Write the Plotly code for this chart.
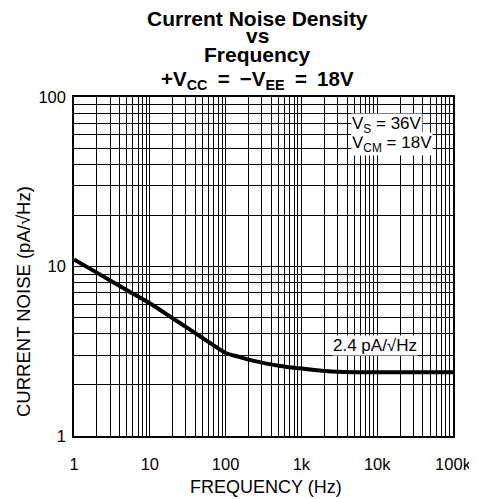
import plotly.graph_objects as go

freq_hz = [1, 2, 5, 10, 20, 50, 100, 150, 200, 300, 500, 1000, 2000, 3000, 5000, 100000]
noise_pa = [11.0, 9.2, 7.25, 6.07, 4.95, 3.78, 3.09, 2.93, 2.82, 2.71, 2.6, 2.5, 2.42, 2.39, 2.38, 2.38]

x_tickvals = [1, 10, 100, 1000, 10000, 100000]
x_ticktext = ["1", "10", "100", "1k", "10k", "100k"]
y_tickvals = [1, 10, 100]
y_ticktext = ["1", "10", "100"]

title_lines = [
    "<b>Current Noise Density</b>",
    "<b>vs</b>",
    "<b>Frequency</b>",
    "<b>+V<sub>CC</sub>\u2002=\u2002\u2212V<sub>EE</sub>\u2002=\u200218V</b>",
]
title_sizes = [21, 21, 21, 20.5]

minor_x = [m * 10 ** d for d in range(0, 5) for m in range(2, 10)]
minor_y = [m * 10 ** d for d in range(0, 2) for m in range(2, 10)]

FONT = "Liberation Sans, Arial, sans-serif"

# screen layout (page body has an 8px margin)
PT, PB, PL, PR = 97, 436, 74, 453


def py(Y):
    return (PB - Y) / (PB - PT)


def px(X):
    return (X - PL) / (PR - PL)


fig = go.Figure()
fig.add_trace(go.Scatter(
    x=freq_hz, y=noise_pa, mode="lines",
    line=dict(color="black", width=4, shape="spline", smoothing=0.6),
    hoverinfo="skip", showlegend=False,
))

axis_common = dict(
    type="log", showline=True, linecolor="black", linewidth=1.5, mirror=True,
    showgrid=True, gridcolor="black", gridwidth=1.2, ticks="", zeroline=False,
    tickfont=dict(family=FONT, size=16.5, color="black"),
)

fig.update_xaxes(
    **axis_common, range=[0, 5], tickvals=x_tickvals, ticktext=x_ticktext,
    ticklabelstandoff=12,
    minor=dict(tickvals=minor_x, showgrid=True, gridcolor="black", gridwidth=1.2, ticks=""),
)
fig.update_yaxes(
    **axis_common, range=[0, 2], tickvals=y_tickvals, ticktext=y_ticktext,
    ticklabelstandoff=3,
    minor=dict(tickvals=minor_y, showgrid=True, gridcolor="black", gridwidth=1.2, ticks=""),
)

title_tops = [6, 23, 42, 66]
for txt, top, size in zip(title_lines, title_tops, title_sizes):
    fig.add_annotation(
        text=txt, xref="paper", yref="paper", x=px(257), y=py(top),
        xanchor="center", yanchor="top", showarrow=False, borderpad=0,
        font=dict(family=FONT, size=size, color="black"),
    )

fig.add_annotation(
    text="FREQUENCY (Hz)", xref="paper", yref="paper", x=px(266), y=py(487),
    xanchor="center", yanchor="middle", showarrow=False,
    font=dict(family=FONT, size=18, color="black"),
)
fig.add_annotation(
    text="CURRENT NOISE (pA/\u221aHz)", xref="paper", yref="paper", x=px(23), y=py(302),
    xanchor="center", yanchor="middle", textangle=-90, showarrow=False,
    font=dict(family=FONT, size=18.5, color="black"),
)

# VCM box first so the VS box (with its subscript) sits on top
for txt, lx, ly in [
    ("V<sub>CM</sub> = 18V", 3.66, 1.72),
    ("V<sub>S</sub> = 36V", 3.66, 1.835),
    ("2.4 pA/\u221aHz", 3.405, 0.535),
]:
    fig.add_annotation(
        text=txt, x=lx, y=ly, xref="x", yref="y", xanchor="left", yanchor="middle",
        showarrow=False, bgcolor="white", borderpad=0,
        font=dict(family=FONT, size=17, color="black"),
    )

fig.update_layout(
    width=477, height=491, autosize=False,
    margin=dict(l=66, r=32, t=89, b=63),
    paper_bgcolor="white", plot_bgcolor="white",
    font=dict(family=FONT, color="black"),
)

fig.write_html("out.html")
